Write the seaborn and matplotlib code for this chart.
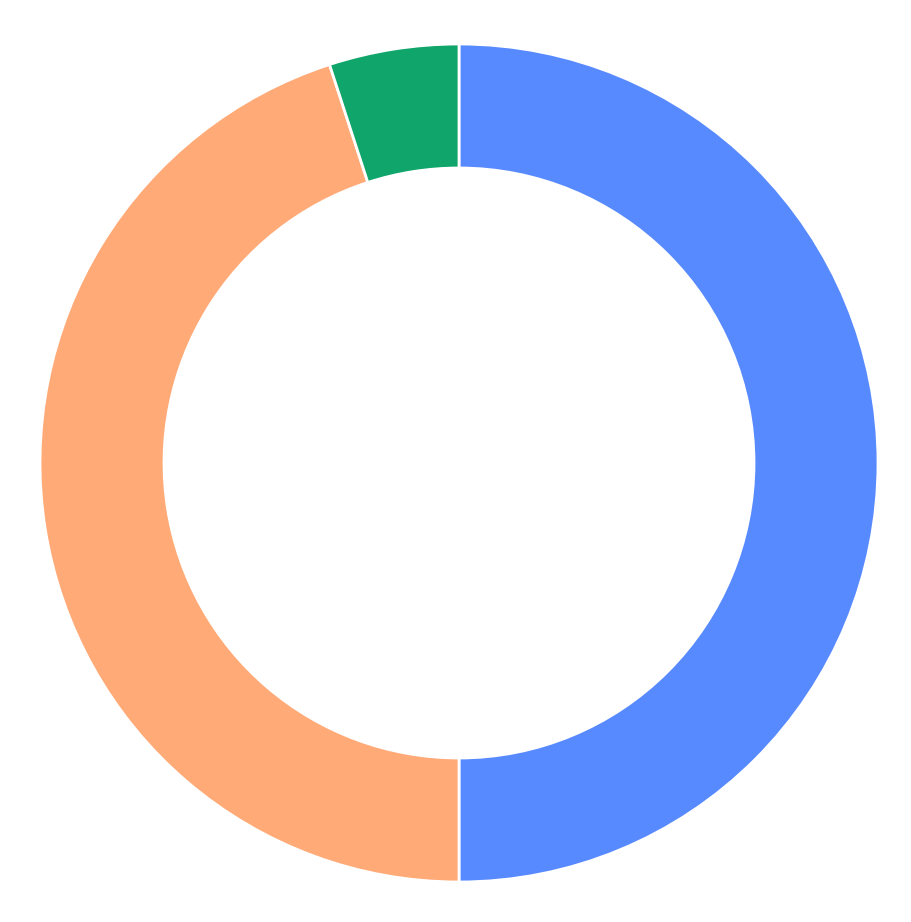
import matplotlib
matplotlib.use('Agg')
import matplotlib.pyplot as plt
import seaborn as sns

# data
labels = ['A', 'B', 'C']
values = [50, 45, 5]
colors = ['#5789FF', '#FFAA77', '#10A56A']

# setup
sns.set_theme(style='white')
fig = plt.figure(figsize=(9.12, 9.22), dpi=100)
ax = fig.add_axes([40 / 912, 40 / 922, 838 / 912, 838 / 922])

ax.pie(values, colors=colors, startangle=90, counterclock=False,
       radius=1.0,
       wedgeprops=dict(width=124 / 419, edgecolor='white', linewidth=2))
ax.set_xlim(-1, 1)
ax.set_ylim(-1, 1)
ax.set_aspect('equal')
ax.axis('off')

fig.savefig('out.png', dpi=100, facecolor='white')
